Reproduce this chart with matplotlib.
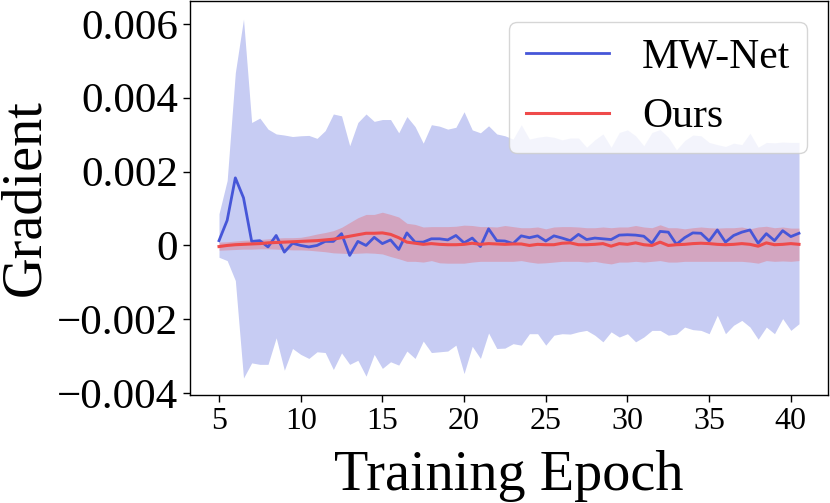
import numpy as np
import matplotlib
matplotlib.use("Agg")
import matplotlib.pyplot as plt

plt.rcParams["font.family"] = ["Liberation Serif", "DejaVu Serif"]

epochs = np.arange(5, 40.75, 0.5)

mw_mean = [0.00013, 0.00068, 0.00183, 0.00129, 0.00011, 0.00013, -0.00004, 0.00027,
           -0.00018, 0.00006, 0.0, -0.00004, 0.0, 0.00011, 0.00011, 0.00032,
           -0.00027, 0.00011, 0.0, 0.00022, 0.00005, 0.00015, -0.00011, 0.00034,
           0.00009, 0.00009, 0.00018, 0.00018, 0.00015, 0.00027, 0.00007, 0.0002,
           -0.00003, 0.00045, 0.00013, 0.00012, 0.00005, 0.00026, 0.00021, 0.00026,
           0.00012, 0.00026, 0.0002, 0.00013, 0.0003, 0.00016, 0.0002, 0.00018,
           0.00016, 0.00028, 0.00029, 0.00028, 0.00025, 0.00006, 0.00038, 0.00036,
           0.00003, 0.00021, 0.00034, 0.00033, 0.00012, 0.00042, 0.00009, 0.00027,
           0.00036, 0.00042, 0.00006, 0.00032, 0.00013, 0.0004, 0.00024, 0.00033]

mw_upper = [0.00086, 0.00176, 0.00468, 0.00613, 0.00333, 0.00345, 0.00315, 0.00302,
            0.00299, 0.00295, 0.00297, 0.00298, 0.0029, 0.00311, 0.00356, 0.00351,
            0.0027, 0.00333, 0.00356, 0.00336, 0.00341, 0.00341, 0.00305, 0.00349,
            0.00322, 0.00277, 0.00327, 0.00323, 0.00315, 0.0032, 0.00362, 0.00313,
            0.00305, 0.00324, 0.00302, 0.00297, 0.00288, 0.00327, 0.00288, 0.00293,
            0.00296, 0.00293, 0.00286, 0.00291, 0.00291, 0.00266, 0.00286, 0.00302,
            0.00266, 0.00306, 0.00313, 0.00297, 0.0027, 0.00306, 0.00314, 0.00293,
            0.00259, 0.00284, 0.00299, 0.00297, 0.00279, 0.00273, 0.00268, 0.00277,
            0.00273, 0.00304, 0.00266, 0.00279, 0.00278, 0.0028, 0.00279, 0.00279]

mw_lower = [-0.00032, -0.00041, -0.00095, -0.00359, -0.00318, -0.00322, -0.00322, -0.0025,
            -0.00338, -0.00279, -0.00295, -0.00306, -0.00288, -0.0029, -0.00336, -0.00291,
            -0.00322, -0.00311, -0.00354, -0.00295, -0.00333, -0.00315, -0.00324, -0.00286,
            -0.00306, -0.00259, -0.0029, -0.00288, -0.00286, -0.0027, -0.00347, -0.00273,
            -0.00306, -0.00237, -0.00279, -0.00278, -0.00266, -0.0027, -0.00239, -0.00239,
            -0.0027, -0.00243, -0.00239, -0.0024, -0.00234, -0.0023, -0.00243, -0.00261,
            -0.00234, -0.00248, -0.00239, -0.00261, -0.00248, -0.0023, -0.0023, -0.00243,
            -0.0024, -0.00221, -0.00228, -0.0023, -0.00239, -0.00189, -0.00239, -0.00216,
            -0.00203, -0.00221, -0.00254, -0.00221, -0.00239, -0.00198, -0.0023, -0.00212]

ours_mean = [-0.00003, 0.0, 0.00002, 0.00003, 0.00004, 0.00005, 0.00007, 0.00008,
             0.00009, 0.0001, 0.00011, 0.00012, 0.00013, 0.00015, 0.00017, 0.00021,
             0.00025, 0.00029, 0.00033, 0.00033, 0.00034, 0.0003, 0.00021, 0.00009,
             0.00006, 0.00003, 0.00005, 0.00003, 0.00002, 0.00002, 0.00003, 0.00006,
             0.00003, 0.00005, 0.00004, 0.00003, 0.00004, 0.00004, 0.0, 0.00003,
             0.00002, 0.00002, 0.00006, 0.00007, 0.00002, 0.00002, 0.00003, 0.00005,
             -0.00002, 0.00005, 0.00003, 0.00007, 0.00002, 0.0, 0.00009, 0.0,
             0.00002, 0.00003, 0.00005, 0.00006, 0.00005, 0.00003, 0.00002, 0.00003,
             0.00005, 0.00003, -0.00002, 0.00007, 0.00002, 0.00003, 0.00005, 0.00003]

ours_upper = [0.00009, 0.0001, 0.00012, 0.00014, 0.00015, 0.00016, 0.00018, 0.0002,
              0.00021, 0.00021, 0.00022, 0.00026, 0.00031, 0.00035, 0.0004, 0.00049,
              0.00062, 0.00075, 0.00084, 0.00084, 0.0009, 0.00084, 0.00077, 0.0006,
              0.00057, 0.0005, 0.00051, 0.00051, 0.00051, 0.00052, 0.00055, 0.00054,
              0.00051, 0.00051, 0.0005, 0.00054, 0.00051, 0.00048, 0.00048, 0.0005,
              0.00045, 0.0005, 0.00051, 0.00051, 0.0005, 0.00048, 0.00048, 0.0005,
              0.00048, 0.0005, 0.0005, 0.00054, 0.0005, 0.00048, 0.00056, 0.00048,
              0.00048, 0.00045, 0.00048, 0.0005, 0.00048, 0.00047, 0.00048, 0.00048,
              0.0005, 0.00045, 0.0005, 0.00052, 0.00048, 0.0005, 0.00047, 0.00047]

ours_lower = [-0.00013, -0.00012, -0.00011, -0.0001, -0.0001, -0.00009, -0.00009, -0.0001,
              -0.00011, -0.00012, -0.00012, -0.00013, -0.00015, -0.00017, -0.0002, -0.00021,
              -0.00022, -0.00021, -0.0002, -0.00021, -0.00023, -0.0003, -0.00036, -0.00043,
              -0.00043, -0.00045, -0.00041, -0.00047, -0.00048, -0.00048, -0.00048, -0.00045,
              -0.00043, -0.00043, -0.00043, -0.00043, -0.00043, -0.00041, -0.00045, -0.00048,
              -0.00047, -0.00045, -0.00043, -0.00043, -0.00043, -0.00045, -0.00043, -0.00047,
              -0.0005, -0.00045, -0.00045, -0.00043, -0.00045, -0.00043, -0.00041, -0.00045,
              -0.00045, -0.00043, -0.00043, -0.00043, -0.00043, -0.00043, -0.00043, -0.00043,
              -0.00043, -0.00045, -0.00048, -0.00041, -0.00043, -0.00042, -0.00043, -0.00041]

ytick_values = [-0.004, -0.002, 0, 0.002, 0.004, 0.006]
ytick_labels = ["\u22120.004", "\u22120.002", "0", "0.002", "0.004", "0.006"]
xtick_values = [5, 10, 15, 20, 25, 30, 35, 40]

blue = "#4656d8"
red = "#ef4b4b"

fig = plt.figure(figsize=(8.3, 5.03), dpi=100)
ax = fig.add_axes([190 / 830, 108 / 503, 638 / 830, 394 / 503])

ax.fill_between(epochs, mw_lower, mw_upper, color=blue, alpha=0.3, linewidth=0)
ax.plot(epochs, mw_mean, color=blue, linewidth=2.0, label="MW-Net")
ax.fill_between(epochs, ours_lower, ours_upper, color=red, alpha=0.3, linewidth=0)
ax.plot(epochs, ours_mean, color=red, linewidth=2.2, label="Ours")

ax.set_ylim(-0.00405, 0.00662)
ax.set_yticks(ytick_values)
ax.set_yticklabels(ytick_labels)
ax.set_xticks(xtick_values)
ax.tick_params(axis="both", length=5, width=1)
ax.tick_params(axis="y", labelsize=31)
ax.tick_params(axis="x", labelsize=23)
for spine in ax.spines.values():
    spine.set_linewidth(1.0)

ax.set_xlabel("Training Epoch", fontsize=40.5, labelpad=10)
ax.set_ylabel("Gradient", fontsize=40.5, labelpad=4)

ax.legend(loc="upper right", fontsize=30)

fig.savefig("out.png", dpi=100)
